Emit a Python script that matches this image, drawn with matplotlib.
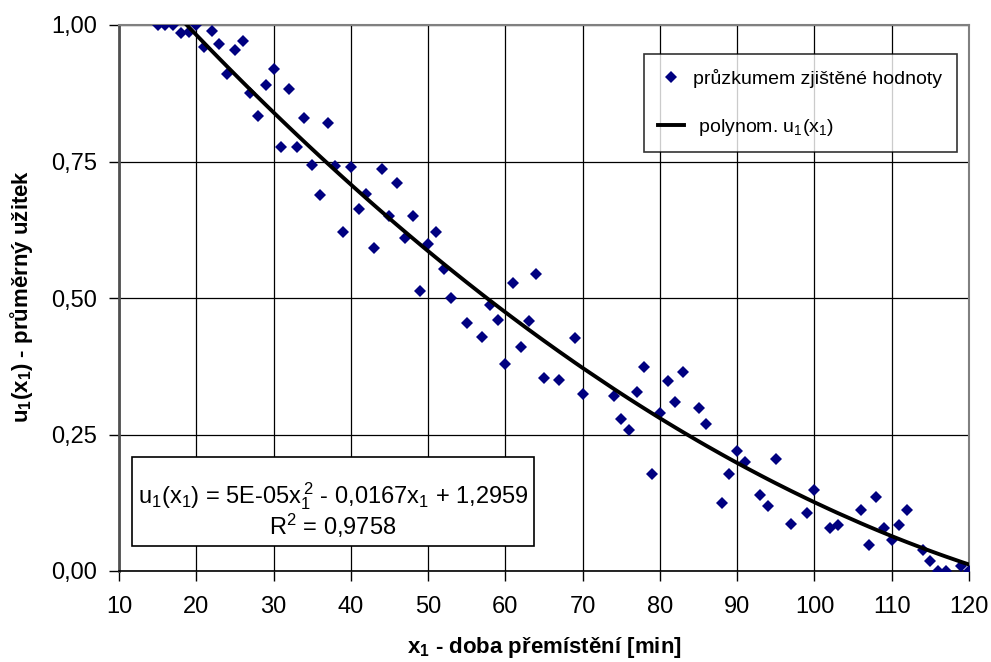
import numpy as np
import matplotlib
matplotlib.use("Agg")
import matplotlib.pyplot as plt
from matplotlib.ticker import FuncFormatter
from matplotlib.patches import Rectangle

plt.rcParams['font.family'] = ['Liberation Sans', 'DejaVu Sans']
plt.rcParams['mathtext.default'] = 'regular'

# ---- data ----
x_vals = [15, 16, 17, 18, 19, 20, 21, 22, 23, 24, 25, 26, 27, 28, 29, 30, 31, 32, 33, 34,
          35, 36, 37, 38, 39, 40, 41, 42, 43, 44, 45, 46, 47, 48, 49, 50, 51, 52, 53, 55,
          57, 58, 59, 60, 61, 62, 63, 64, 65, 67, 69, 70, 74, 75, 76, 77, 78, 79, 80, 81,
          82, 83, 85, 86, 88, 89, 90, 91, 93, 94, 95, 97, 99, 100, 102, 103, 106, 107, 108,
          109, 110, 111, 112, 114, 115, 116, 117, 119, 120]
y_vals = [1.00, 1.00, 1.00, 0.986, 0.988, 1.00, 0.96, 0.989, 0.966, 0.91, 0.955, 0.97, 0.876,
          0.833, 0.891, 0.919, 0.776, 0.883, 0.776, 0.829, 0.743, 0.689, 0.821, 0.742, 0.62,
          0.74, 0.663, 0.69, 0.592, 0.736, 0.651, 0.71, 0.609, 0.65, 0.513, 0.598, 0.62,
          0.554, 0.50, 0.455, 0.429, 0.488, 0.46, 0.379, 0.527, 0.411, 0.457, 0.544, 0.354,
          0.349, 0.426, 0.325, 0.32, 0.278, 0.258, 0.328, 0.374, 0.177, 0.289, 0.348, 0.309,
          0.365, 0.298, 0.269, 0.125, 0.177, 0.22, 0.20, 0.139, 0.119, 0.206, 0.086, 0.107,
          0.149, 0.079, 0.084, 0.111, 0.048, 0.135, 0.079, 0.056, 0.084, 0.111, 0.038, 0.018,
          0.0, 0.0, 0.01, 0.0]
poly_coef = [5e-05, -0.0167, 1.2959]   # u1(x1) = a*x^2 + b*x + c
x_ticks = [10, 20, 30, 40, 50, 60, 70, 80, 90, 100, 110, 120]
y_ticks = [0.0, 0.25, 0.5, 0.75, 1.0]
label_points = "průzkumem zjištěné hodnoty"
label_line = " polynom. u$_1$(x$_1$)"
eq_text = "u$_1$(x$_1$) = 5E-05x$_1^{\\,2}$ - 0,0167x$_1$ + 1,2959\nR$^2$ = 0,9758"
x_title = "x$_1$ - doba přemístění [min]"
y_title = "u$_1$(x$_1$) - průměrný užitek"

W, H = 991, 662
fig = plt.figure(figsize=(W / 100, H / 100), dpi=100)
L, R, T, B = 119, 969, 25, 571
ax = fig.add_axes([L / W, 1 - B / H, (R - L) / W, (B - T) / H])

x_line = np.array(x_vals, dtype=float)
y_line = np.polyval(poly_coef, x_line)

ax.plot(x_vals, y_vals, linestyle='none', marker='D', markersize=6.5,
        color='#000080', markeredgewidth=0, label=label_points, zorder=3)
ax.plot(x_line, y_line, color='black', linewidth=2.8, label=label_line, zorder=4)

ax.set_xlim(10, 120)
ax.set_ylim(0, 1)
ax.set_xticks(x_ticks)
ax.set_yticks(y_ticks)
ax.yaxis.set_major_formatter(FuncFormatter(lambda v, p: f"{v:.2f}".replace('.', ',')))
ax.tick_params(axis='both', direction='out', length=7, width=1, labelsize=17, color='black')
ax.tick_params(axis='y', pad=9)
ax.tick_params(axis='x', pad=11)

ax.grid(True, color='black', linewidth=0.9)
ax.set_axisbelow(True)
for s in ['top', 'right']:
    ax.spines[s].set_color('#808080')
    ax.spines[s].set_linewidth(1.5)
ax.spines['left'].set_color('#505050')
ax.spines['left'].set_linewidth(2)
ax.spines['bottom'].set_color('black')
ax.spines['bottom'].set_linewidth(1.2)

fig.text(544 / W, 1 - 648 / H, x_title, ha='center', va='center',
         fontsize=16, fontweight='bold')
fig.text(22 / W, 1 - 296 / H, y_title, ha='center', va='center',
         rotation=90, fontsize=16, fontweight='bold')

leg = ax.legend(loc='upper right', bbox_to_anchor=((957 - L) / (R - L), (B - 54) / (B - T)),
                borderaxespad=0, fontsize=14, frameon=True, fancybox=False,
                labelspacing=1.5, borderpad=0.75, handlelength=1.3, handletextpad=0.5)
leg.get_frame().set_edgecolor('black')
leg.get_frame().set_linewidth(1.2)
leg.set_zorder(10)

# equation box
ax.add_patch(Rectangle(((132 - L) / (R - L), (B - 546) / (B - T)),
                       (534 - 132) / (R - L), (546 - 457) / (B - T),
                       transform=ax.transAxes, facecolor='white', edgecolor='black',
                       linewidth=1.2, zorder=6))
cx = (333 - L) / (R - L)
ax.text(cx, (B - 510) / (B - T), eq_text, transform=ax.transAxes, ha='center',
        va='center', multialignment='center', fontsize=17, linespacing=1.0, zorder=7)

fig.savefig("out.png", dpi=100)
